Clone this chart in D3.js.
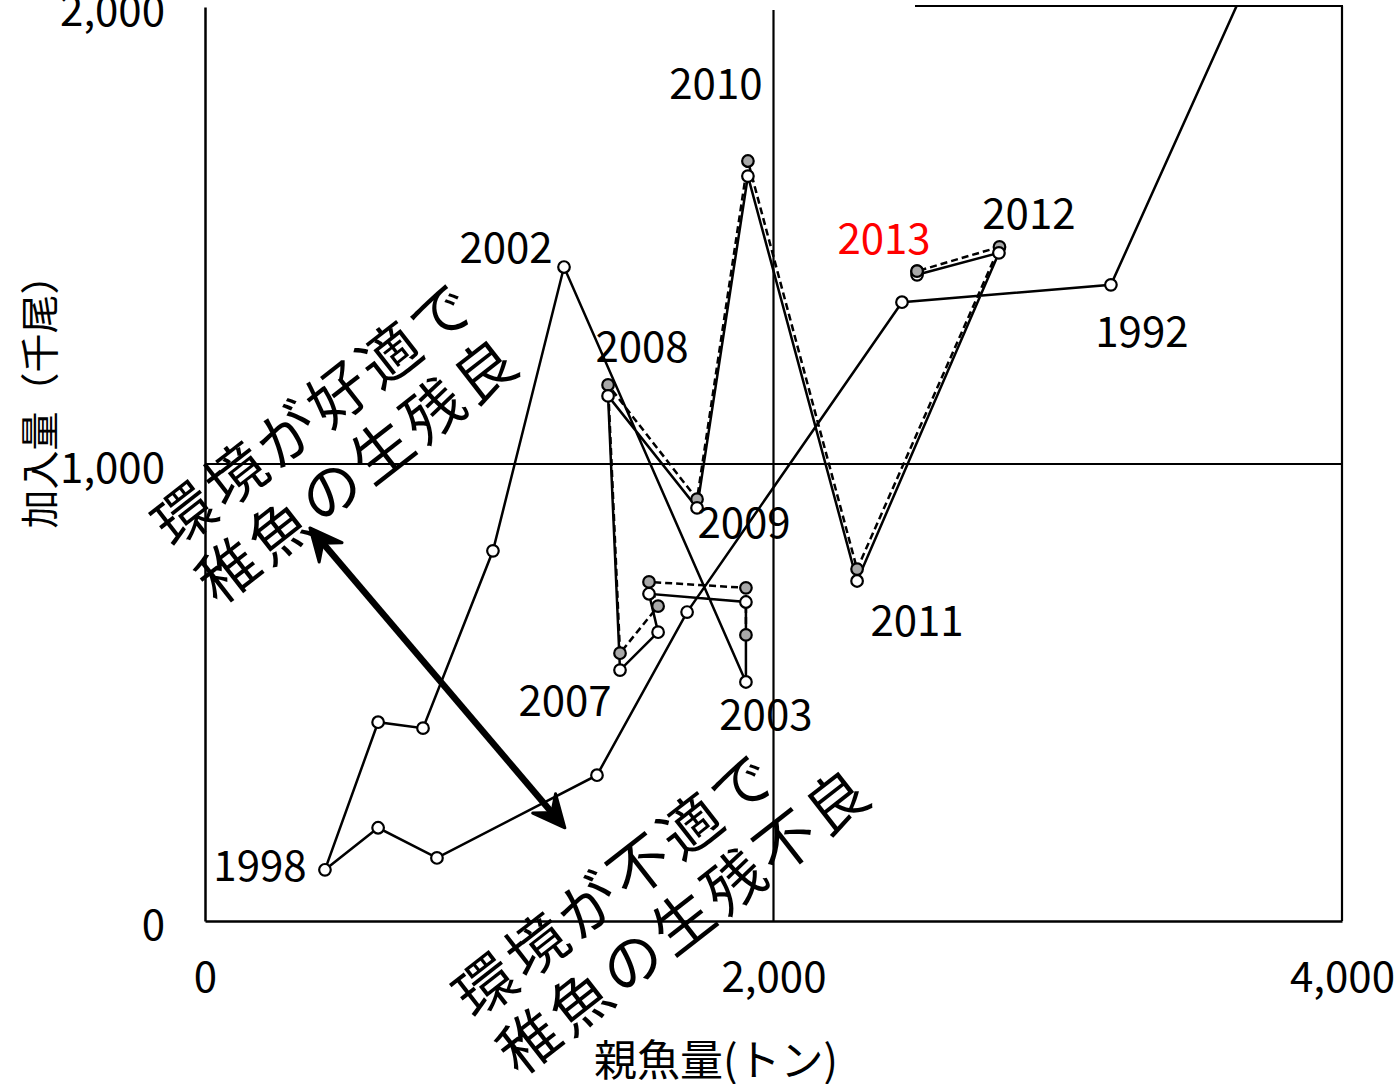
<!DOCTYPE html>
<html>
<head>
<meta charset="utf-8">
<script src="https://cdn.jsdelivr.net/npm/d3@7"></script>
<style>
  html, body { margin: 0; padding: 0; background: #fff; }
  svg { display: block; }
  text { font-family: "Noto Sans CJK JP", "Noto Sans", sans-serif; fill: #000; }
</style>
</head>
<body>
<svg id="chart" width="1397" height="1084"></svg>
<script>
// Spawning stock (t) vs recruitment (thousand fish), by year
const years = [1991, 1992, 1993, 1994, 1995, 1996, 1997, 1998, 1999, 2000, 2001, 2002,
               2003, 2004, 2005, 2006, 2007, 2008, 2009, 2010, 2011, 2012, 2013];
const spawners = [3845, 3187, 2452, 1696, 1379, 816, 609, 422, 609, 767, 1013, 1263,
                  1903, 1903, 1562, 1594, 1460, 1418, 1731, 1910, 2294, 2793, 2505];
const recruits = [2300, 1392, 1354, 676, 319, 138, 204, 112, 435, 422, 810, 1431,
                  523, 698, 716, 632, 549, 1149, 904, 1630, 744, 1462, 1414];

// Revised estimates for recent years (dashed series)
const revYears = [2003, 2004, 2005, 2006, 2007, 2008, 2009, 2010, 2011, 2012, 2013];
const revSpawners = [1903, 1903, 1562, 1594, 1460, 1418, 1731, 1910, 2294, 2795, 2505];
const revRecruits = [626, 729, 742, 689, 586, 1173, 923, 1663, 770, 1475, 1422];

// Year labels
const labelYears = [1992, 1998, 2002, 2003, 2007, 2008, 2009, 2010, 2011, 2012, 2013];

// Axis ticks
const xTicks = [0, 2000, 4000];
const yTicks = [0, 1000, 2000];

const xTitle = "親魚量(トン)";
const yTitle = "加入量（千尾）";
const goodLines = ["環境が好適で", "稚魚の生残良"];
const badLines = ["環境が不適で", "稚魚の生残不良"];

// ---- layout ----
const svg = d3.select("#chart");
const plotLeft = 205, plotRight = 1342, plotTop = 7, plotBottom = 921;

const x = d3.scaleLinear().domain([0, 4000]).range([plotLeft, plotRight]);
const y = d3.scaleLinear().domain([0, 2000]).range([plotBottom, plotTop]);

// label offsets (px) from each labelled point
const labelOffset = {
  1992: [31, 44], 1998: [-65, -7], 2002: [-58, -23], 2003: [20, 30], 2007: [-55, 27],
  2008: [34, -52], 2009: [47, 12], 2010: [-32, -96], 2011: [60, 37], 2012: [30, -42],
  2013: [-33, -39]
};

svg.append("defs").append("clipPath").attr("id", "plotClip")
  .append("rect").attr("x", plotLeft).attr("y", plotTop)
  .attr("width", plotRight - plotLeft).attr("height", plotBottom - plotTop);

// reference lines at 2,000 t and 1,000 thousand fish
svg.append("line").attr("x1", x(2000)).attr("x2", x(2000)).attr("y1", plotTop + 3).attr("y2", plotBottom)
  .attr("stroke", "#000").attr("stroke-width", 2.2);
svg.append("line").attr("x1", plotLeft).attr("x2", plotRight).attr("y1", y(1000)).attr("y2", y(1000))
  .attr("stroke", "#000").attr("stroke-width", 2.2);

// frame: top (partial) and right
svg.append("line").attr("x1", 915).attr("x2", plotRight + 1).attr("y1", plotTop - 1).attr("y2", plotTop - 1)
  .attr("stroke", "#000").attr("stroke-width", 2.2);
svg.append("line").attr("x1", plotRight).attr("x2", plotRight).attr("y1", plotTop - 1).attr("y2", plotBottom)
  .attr("stroke", "#000").attr("stroke-width", 2.2);

// axes
const xAxis = d3.axisBottom(x).tickValues(xTicks).tickSize(0).tickSizeOuter(0).tickPadding(41)
  .tickFormat(d3.format(","));
const yAxis = d3.axisLeft(y).tickValues(yTicks).tickSize(0).tickSizeOuter(0).tickPadding(40)
  .tickFormat(d3.format(","));

const gx = svg.append("g").attr("transform", `translate(0,${plotBottom})`).call(xAxis);
const gy = svg.append("g").attr("transform", `translate(${plotLeft},0)`).call(yAxis);
[gx, gy].forEach(g => {
  g.select(".domain").attr("stroke", "#000").attr("stroke-width", 2.5);
  g.selectAll("text").style("font-family", '"Noto Sans CJK JP", sans-serif')
    .attr("font-size", 42).attr("fill", "#000");
});
gy.selectAll("text").attr("dy", "0.45em");

// axis titles
svg.append("text").attr("x", 716).attr("y", 1076).attr("text-anchor", "middle")
  .attr("font-size", 43).text(xTitle);
svg.append("text").attr("transform", `translate(37,392) rotate(-90)`)
  .attr("text-anchor", "middle").attr("dominant-baseline", "central")
  .attr("font-size", 39).text(yTitle);

// series
const main = years.map((yr, i) => ({ year: yr, s: spawners[i], r: recruits[i] }));
const rev = revYears.map((yr, i) => ({ year: yr, s: revSpawners[i], r: revRecruits[i] }));

const line = d3.line().x(d => x(d.s)).y(d => y(d.r));
const plot = svg.append("g").attr("clip-path", "url(#plotClip)");

plot.append("path").datum(rev).attr("d", line)
  .attr("fill", "none").attr("stroke", "#000").attr("stroke-width", 2.5)
  .attr("stroke-dasharray", "7,4");
plot.append("path").datum(main).attr("d", line)
  .attr("fill", "none").attr("stroke", "#000").attr("stroke-width", 2.5);

plot.selectAll("circle.rev").data(rev).join("circle").attr("class", "rev")
  .attr("cx", d => x(d.s)).attr("cy", d => y(d.r)).attr("r", 5.8)
  .attr("fill", "#a8a8a8").attr("stroke", "#000").attr("stroke-width", 2.2);
plot.selectAll("circle.main").data(main).join("circle").attr("class", "main")
  .attr("cx", d => x(d.s)).attr("cy", d => y(d.r)).attr("r", 5.8)
  .attr("fill", "#fff").attr("stroke", "#000").attr("stroke-width", 2.2);
// latest revised point drawn on top
plot.selectAll("circle.last").data(rev.slice(-1)).join("circle").attr("class", "last")
  .attr("cx", d => x(d.s)).attr("cy", d => y(d.r)).attr("r", 5.8)
  .attr("fill", "#a8a8a8").attr("stroke", "#000").attr("stroke-width", 2.2);

// year labels
svg.selectAll("text.year").data(main.filter(d => labelYears.includes(d.year)))
  .join("text").attr("class", "year")
  .attr("x", d => x(d.s) + labelOffset[d.year][0])
  .attr("y", d => y(d.r) + labelOffset[d.year][1])
  .attr("text-anchor", "middle").attr("dominant-baseline", "central")
  .attr("font-size", 42)
  .style("fill", d => d.year === 2013 ? "#ff0000" : "#000")
  .text(d => d.year);

// double-headed arrow between the two annotations
const arrowFrom = [369, 860], arrowTo = [1266, 204];
const p0 = [x(arrowFrom[0]), y(arrowFrom[1])], p1 = [x(arrowTo[0]), y(arrowTo[1])];
const len = Math.hypot(p1[0] - p0[0], p1[1] - p0[1]);
const ux = (p1[0] - p0[0]) / len, uy = (p1[1] - p0[1]) / len;
const headL = 32, headW = 15, notch = 20;
svg.append("line")
  .attr("x1", p0[0] + ux * notch).attr("y1", p0[1] + uy * notch)
  .attr("x2", p1[0] - ux * notch).attr("y2", p1[1] - uy * notch)
  .attr("stroke", "#000").attr("stroke-width", 6.5);
function head(tip, dx, dy) {
  const bx = tip[0] - dx * headL, by = tip[1] - dy * headL;
  const nx = tip[0] - dx * notch, ny = tip[1] - dy * notch;
  const px = -dy, py = dx;
  return `M${tip[0]},${tip[1]}L${bx + px * headW},${by + py * headW}L${nx},${ny}L${bx - px * headW},${by - py * headW}Z`;
}
svg.append("path").attr("d", head(p1, ux, uy)).attr("fill", "#000")
  .attr("stroke", "#000").attr("stroke-width", 3).attr("stroke-linejoin", "round");
svg.append("path").attr("d", head(p0, -ux, -uy)).attr("fill", "#000")
  .attr("stroke", "#000").attr("stroke-width", 3).attr("stroke-linejoin", "round");

// rotated annotations
function note(lines, tx, ty) {
  const g = svg.append("g").attr("transform", `translate(${tx},${ty}) rotate(-38)`);
  lines.forEach((t, i) => {
    g.append("text").attr("x", 0).attr("y", i * 71)
      .attr("dominant-baseline", "central").attr("font-size", 60)
      .attr("letter-spacing", 5).text(t);
  });
}
note(goodLines, 158, 530);
note(badLines, 459, 1001);
</script>
</body>
</html>
